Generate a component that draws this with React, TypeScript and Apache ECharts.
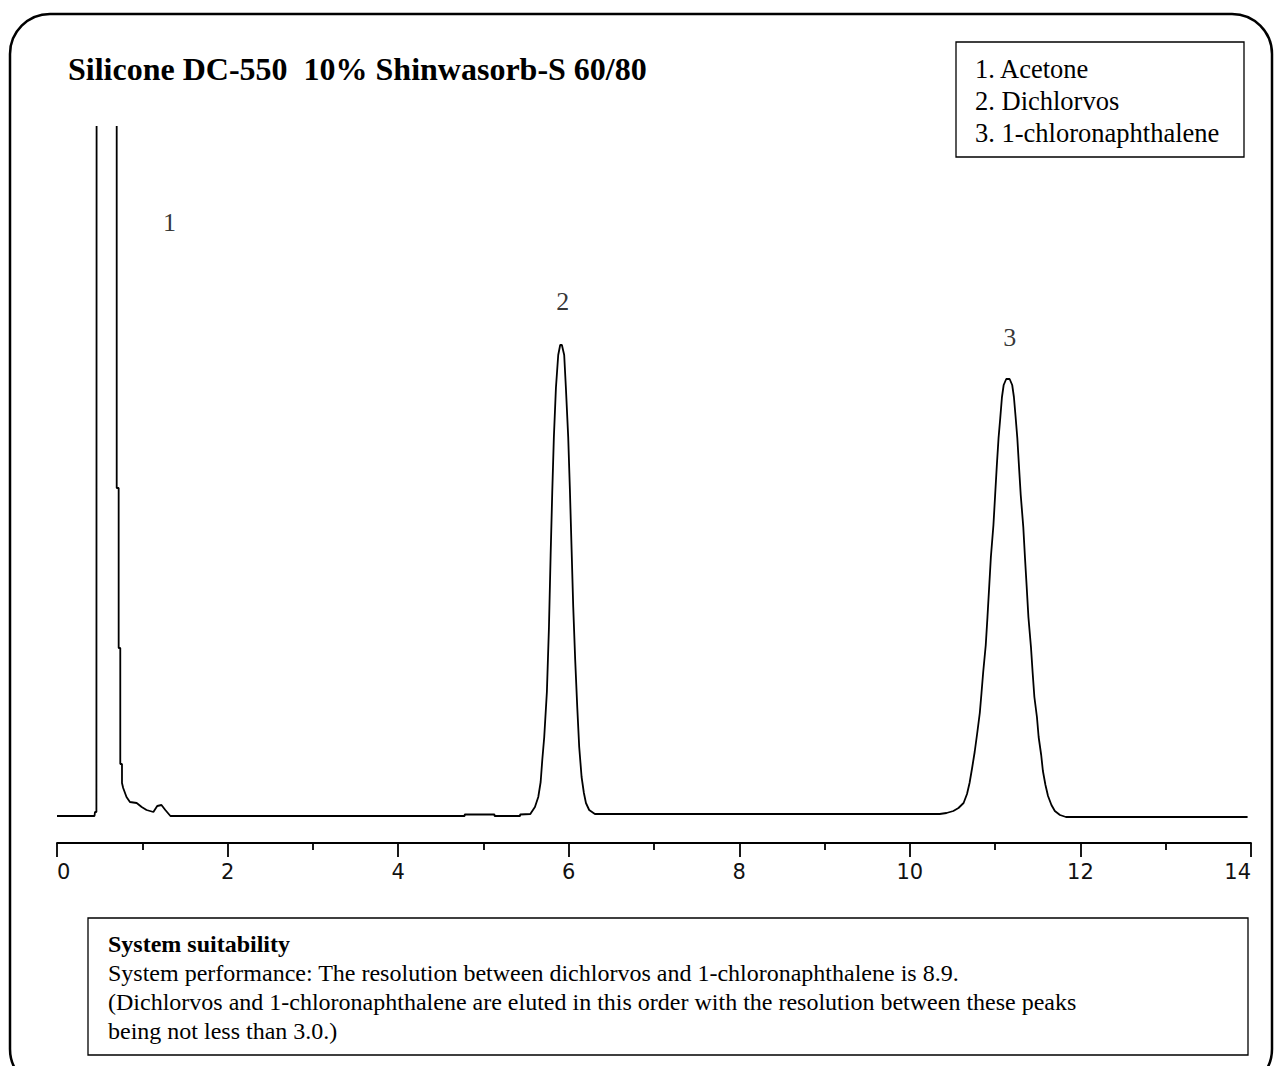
import React, { useEffect, useRef } from "react";
import * as echarts from "echarts";

// Chromatogram trace (retention time in min, detector response)
const timeMin = [
  0, 0.44, 0.445, 0.462, 0.465, 0.7, 0.7, 0.723, 0.723, 0.742, 0.742, 0.762, 0.762,
  0.776, 0.815, 0.855, 0.934, 0.993, 1.05, 1.13, 1.175, 1.225, 1.27, 1.33,
  4.78, 4.78, 5.13, 5.13, 5.43, 5.43, 5.55,
  5.565, 5.604, 5.643, 5.671, 5.69, 5.713, 5.744, 5.768, 5.788, 5.807, 5.826, 5.85, 5.877, 5.9,
  5.92, 5.947, 5.967, 5.994, 6.014, 6.034, 6.053, 6.076, 6.1, 6.123, 6.151, 6.178, 6.202, 6.24, 6.307,
  10.35, 10.43, 10.51, 10.57, 10.63, 10.67, 10.7, 10.73, 10.76, 10.79, 10.82, 10.84, 10.86, 10.89,
  10.91, 10.93, 10.95, 10.98, 11.0, 11.02, 11.04, 11.06, 11.08, 11.1, 11.13, 11.17,
  11.2, 11.22, 11.24, 11.26, 11.28, 11.3, 11.33, 11.35, 11.37, 11.39, 11.42, 11.44, 11.46, 11.49,
  11.51, 11.54, 11.56, 11.59, 11.62, 11.66, 11.7, 11.76, 11.83, 13.96,
];
const signal = [
  0, 0, 4, 4, 900, 900, 328, 328, 168, 168, 52, 52, 33,
  28, 19, 14, 13, 9, 6, 4, 10, 11, 6, 0,
  0, 1.5, 1.5, 0, 0, 1.5, 2,
  4, 9, 19, 34, 56, 79, 124, 188, 261, 324, 379, 428, 461, 471,
  471, 461, 428, 379, 326, 266, 209, 156, 109, 69, 39, 23, 13, 6, 2,
  2, 3, 5, 8, 13, 22, 33, 48, 64, 83, 103, 123, 144, 171,
  199, 229, 259, 291, 321, 351, 378, 398, 419, 431, 437, 437,
  431, 419, 399, 378, 349, 321, 289, 258, 229, 199, 169, 143, 119, 99,
  79, 61, 45, 31, 20, 11, 5, 1, -1, -1,
];

// Peak number annotations
const peakNames = ["1", "2", "3"];
const peakLabelTime = [1.32, 5.93, 11.17];
const peakLabelSignal = [594, 515, 479];

const legendLines = ["1. Acetone", "2. Dichlorvos", "3. 1-chloronaphthalene"];
const titleText = "Silicone DC-550  10% Shinwasorb-S 60/80";
const noteTitle = "System suitability";
const noteLines = [
  "System performance: The resolution between dichlorvos and 1-chloronaphthalene is 8.9.",
  "(Dichlorvos and 1-chloronaphthalene are eluted in this order with the resolution between these peaks",
  "being not less than 3.0.)",
];

const SERIF = '"Liberation Serif", "Times New Roman", serif';

export default function App() {
  const ref = useRef<HTMLDivElement>(null);
  useEffect(() => {
    if (!ref.current) return;
    const chart = echarts.init(ref.current, undefined, { renderer: "svg" });
    const trace = timeMin.map((t, i) => [t, signal[i]]);
    const peaks = peakNames.map((n, i) => [peakLabelTime[i], peakLabelSignal[i], n]);
    const graphics: any[] = [
      {
        type: "rect",
        shape: { x: 10, y: 14, width: 1262, height: 1075, r: 40 },
        style: { fill: "none", stroke: "#000", lineWidth: 2.5 },
        silent: true,
      },
      {
        type: "text",
        x: 68,
        y: 69,
        style: { text: titleText, fill: "#000", font: `bold 32px ${SERIF}`, verticalAlign: "middle" },
      },
      {
        type: "rect",
        shape: { x: 956, y: 42, width: 288, height: 115 },
        style: { fill: "#fff", stroke: "#000", lineWidth: 1.3 },
      },
      ...legendLines.map((l, i) => ({
        type: "text",
        x: 975,
        y: 69 + i * 32,
        style: { text: l, fill: "#000", font: `26.5px ${SERIF}`, verticalAlign: "middle" },
      })),
      {
        type: "rect",
        shape: { x: 88, y: 918, width: 1160, height: 137 },
        style: { fill: "#fff", stroke: "#000", lineWidth: 1.3 },
      },
      {
        type: "text",
        x: 108,
        y: 944,
        style: { text: noteTitle, fill: "#000", font: `bold 24px ${SERIF}`, verticalAlign: "middle" },
      },
      ...noteLines.map((l, i) => ({
        type: "text",
        x: 108,
        y: 973 + i * 29,
        style: { text: l, fill: "#000", font: `24px ${SERIF}`, verticalAlign: "middle" },
      })),
    ];
    chart.setOption({
      animation: false,
      backgroundColor: "#fff",
      grid: { left: 57, right: 23, top: 127, bottom: 223, containLabel: false },
      xAxis: {
        type: "value",
        min: 0,
        max: 14,
        interval: 2,
        axisLine: { show: true, onZero: false, lineStyle: { color: "#000", width: 1.8 } },
        axisTick: { show: true, length: 14, lineStyle: { color: "#000", width: 1.8 } },
        minorTick: { show: true, splitNumber: 2, length: 7, lineStyle: { color: "#000", width: 1.8 } },
        splitLine: { show: false },
        axisLabel: {
          color: "#111",
          fontSize: 21,
          fontFamily: '"DejaVu Sans", sans-serif',
          margin: 18,
          alignMinLabel: "left",
          alignMaxLabel: "right",
        },
      },
      yAxis: { type: "value", min: -27, max: 689, show: false, splitLine: { show: false } },
      graphic: graphics,
      series: [
        {
          type: "line",
          data: trace,
          showSymbol: false,
          symbol: "none",
          clip: true,
          lineStyle: { color: "#000", width: 1.8 },
          silent: true,
        },
        {
          type: "scatter",
          data: peaks,
          symbolSize: 0,
          silent: true,
          label: {
            show: true,
            position: "inside",
            formatter: (p: any) => p.value[2],
            color: "#000",
            fontSize: 26,
            fontFamily: SERIF,
          },
        },
      ],
    });
    return () => chart.dispose();
  }, []);
  return (
    <div
      ref={ref}
      style={{ position: "absolute", left: 0, top: 0, width: 1274, height: 1066 }}
    />
  );
}
